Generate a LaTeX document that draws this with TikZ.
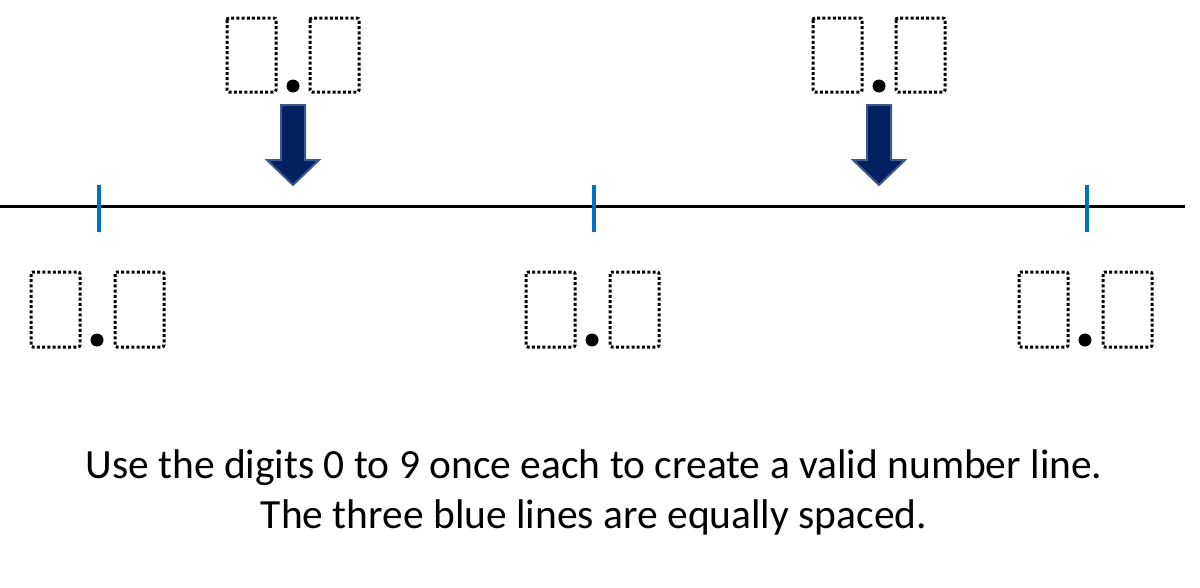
\documentclass[tikz,border=0pt]{standalone}
\usepackage{fontspec}
\setmainfont{Carlito}
\begin{document}
\begin{tikzpicture}[x=1pt,y=-1pt,
  dbox/.style={draw, line width=3pt, dash pattern=on 3pt off 2.2pt, rounded corners=2pt},
  tick/.style={draw={rgb,255:red,0;green,112;blue,192}, line width=4pt},
  darr/.style={fill={rgb,255:red,0;green,32;blue,96}, draw={rgb,255:red,60;green,90;blue,140}, line width=2pt}]
\useasboundingbox (0,0) rectangle (1200,587);
\draw[line width=3pt] (0,206) coordinate (L) -- (1185,206) coordinate (R);
\foreach \x/\n in {99/a,594/b,1087/c}{
  \draw[tick] (\x,185) coordinate (t\n) -- (\x,232);
  \draw[dbox] (\x-68,272) rectangle (\x-19,347);
  \draw[dbox] (\x+16,272) rectangle (\x+65,347);
  \fill (\x-2,340) circle (6.5);
}
\foreach \x/\n in {293/p,879/q}{
  \draw[dbox] (\x-66,18) rectangle (\x-17,92);
  \draw[dbox] (\x+17,18) rectangle (\x+66,92);
  \fill (\x,86) circle (6.5);
  \draw[darr] (\x-12,105) -- (\x+12,105) -- (\x+12,160) -- (\x+26,160) -- (\x,185) -- (\x-26,160) -- (\x-12,160) -- cycle;
}
\node[font=\fontsize{41.5}{50}\selectfont, align=center] (txt) at (594,492) {Use the digits 0 to 9 once each to create a valid number line.\\The three blue lines are equally spaced.};
\end{tikzpicture}
\end{document}
